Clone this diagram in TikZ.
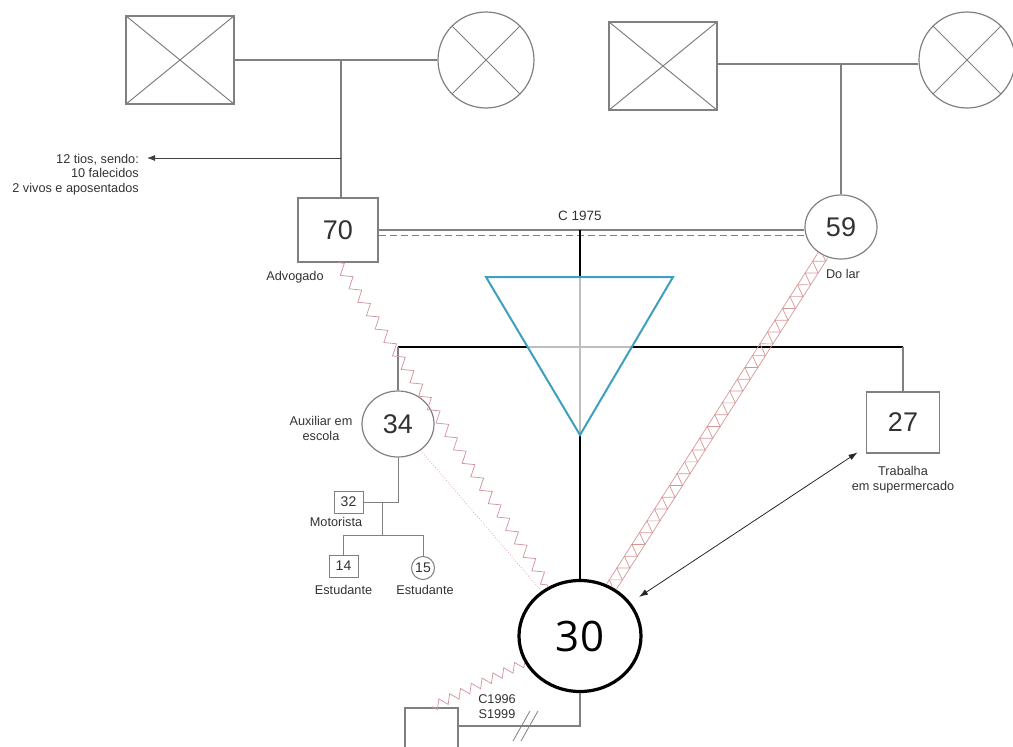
\documentclass[tikz,border=0pt]{standalone}
\usepackage{fontspec}
\setmainfont{Liberation Sans}
\newfontfamily\egofont{Open Sans}
\usetikzlibrary{arrows.meta,decorations.pathmorphing,calc,shapes.geometric}
\definecolor{ln}{RGB}{128,128,128}
\definecolor{lightln}{RGB}{190,190,190}
\definecolor{tx}{RGB}{50,50,50}
\definecolor{tealc}{RGB}{60,160,190}
\definecolor{zzc}{RGB}{210,150,160}
\definecolor{trc}{RGB}{215,150,150}
\definecolor{dotc}{RGB}{215,170,178}
\begin{document}
\begin{tikzpicture}[x=1pt,y=-1pt,
  gline/.style={draw=ln,line width=1.2pt},
  thinline/.style={draw=ln,line width=1pt},
  lightline/.style={draw=lightln,line width=1.2pt},
  bline/.style={draw=black,line width=1.9pt},
  male/.style={draw=ln,line width=1.2pt,rectangle,inner sep=0pt,text=tx},
  female/.style={draw=ln,line width=1.2pt,ellipse,inner sep=0pt,text=tx},
  age/.style={font=\fontsize{27}{30}\selectfont},
  small/.style={font=\fontsize{14}{16}\selectfont},
  lbl/.style={text=tx,font=\fontsize{12.7}{14.5}\selectfont,inner sep=0pt,align=center},
  zzline/.style={draw=zzc,line width=0.75pt,decorate,decoration={zigzag,segment length=16pt,amplitude=5pt}},
  zzsmall/.style={draw=zzc,line width=0.75pt,decorate,decoration={zigzag,segment length=12pt,amplitude=4.5pt}},
  trussline/.style={draw=trc,line width=0.7pt},
  arrowtip/.style={line width=0.8pt,-{Latex[length=8pt,width=6pt]}}
]
\useasboundingbox (0,0) rectangle (1013,747);

% grandparents left
\node[male,minimum width=108pt,minimum height=88pt] (gf1) at (180,60) {};
\draw[thinline] (gf1.north west) -- (gf1.south east) (gf1.north east) -- (gf1.south west);
\node[female,minimum size=96pt] (gm1) at (486,60) {};
\draw[thinline] (gm1.135) -- (gm1.-45) (gm1.45) -- (gm1.-135);
\draw[gline] (gf1.east) -- (gm1.west);

% grandparents right
\node[male,minimum width=108pt,minimum height=88pt] (gf2) at (663,66) {};
\draw[thinline] (gf2.north west) -- (gf2.south east) (gf2.north east) -- (gf2.south west);
\node[female,minimum size=96pt] (gm2) at (967,60) {};
\draw[thinline] (gm2.135) -- (gm2.-45) (gm2.45) -- (gm2.-135);
\coordinate (c2) at (841,64);
\draw[gline] (c2 -| gf2.east) -- (c2 -| gm2.west);

% parents
\node[male,minimum width=80pt,minimum height=64pt,age] (father) at (338,230) {70};
\node[female,minimum width=72pt,minimum height=64pt,age] (mother) at (841,227) {59};
\node[lbl] (fatherjob) at (295,277) {Advogado};
\node[lbl] (motherjob) at (843,274) {Do lar};

\coordinate (c1) at (341,60);
\draw[gline] (c1) -- (c1 |- father.north);
\draw[gline] (c2) -- (mother.north);

% uncles
\coordinate (ua) at (341,158);
\coordinate (ue) at (147,158);
\draw[arrowtip,draw=black!75] (ua) -- (ue);
\node[lbl,anchor=north east,align=right] (uncles) at (139,154)
  {12 tios, sendo:\\10 falecidos\\2 vivos e aposentados};

% marriage
\draw[gline] (father.east) -- (father.east -| mother.west);
\coordinate (fd) at ($(father.east)+(0,5)$);
\draw[thinline,dash pattern=on 7pt off 4pt] (fd) -- (fd -| mother.west);
\node[lbl,font=\fontsize{13.5}{15}\selectfont] (marr) at (580,216) {C 1975};

% ego
\node[draw=black,line width=3.2pt,ellipse,minimum width=122pt,minimum height=111pt,inner sep=0pt,text=black,font=\egofont\fontsize{42}{46}\selectfont] (ego) at (580,636) {30};

% triangle coordinates
\coordinate (tl) at (486,277);
\coordinate (tr) at (673,277);
\coordinate (tb) at (580,435);
\coordinate (mc) at (father.east -| ego.north);
\coordinate (tt) at (tl -| mc);

% siblings line
\coordinate (sl) at (398,347);
\coordinate (sr) at (903,347);
\coordinate (il) at (intersection of tl--tb and sl--sr);
\coordinate (ir) at (intersection of tr--tb and sl--sr);

\node[female,minimum width=72pt,minimum height=66pt,age] (sister) at (398,424) {34};
\node[male,minimum width=73pt,minimum height=61pt,age] (brother) at (903,422.5) {27};
\node[lbl] (sisterjob) at (321,428.5) {Auxiliar em\\escola};
\node[lbl,font=\fontsize{12.7}{15}\selectfont] (brotherjob) at (903,479.5) {Trabalha\\em supermercado};

\draw[bline] (mc) -- (tt);
\draw[lightline] (tt) -- (tb);
\draw[bline] (tb) -- (ego.north);
\draw[bline] (sl) -- (il);
\draw[lightline] (il) -- (ir);
\draw[bline] (ir) -- (sr);
\draw[gline] (sl) -- (sister.north);
\draw[gline] (sr) -- (brother.north);
\draw[tealc,line width=2pt,line join=miter] (tl) -- (tr) -- (tb) -- cycle;

% sister's family
\node[male,minimum width=29pt,minimum height=22pt,small,line width=1pt] (bil) at (348.5,502) {32};
\node[lbl] (biljob) at (336,522) {Motorista};
\coordinate (sj) at (sister.south |- bil.east);
\draw[thinline] (sister.south) -- (sj) -- (bil.east);
\node[male,minimum width=29pt,minimum height=22pt,small,line width=1pt] (nephew) at (343.5,566) {14};
\node[female,minimum size=23pt,small,line width=1pt] (niece) at (423,568) {15};
\node[lbl] (nephewjob) at (343.5,590) {Estudante};
\node[lbl] (niecejob) at (425,590) {Estudante};
\coordinate (cj) at (382,502);
\coordinate (cb) at (382,535);
\draw[thinline] (cj) -- (cb);
\draw[thinline] (nephew.north) -- (nephew.north |- cb) -- (niece.north |- cb) -- (niece.north);

% ex-spouse
\node[male,minimum width=53pt,minimum height=50pt] (ex) at (431.5,733) {};
\coordinate (exl) at (ex.east |- 0,726);
\draw[gline] (exl) -| (ego.south);
\coordinate (div) at (526,726);
\draw[thinline,line width=0.8pt] ([shift={(-13,15)}]div) -- ([shift={(4,-15)}]div)
  ([shift={(-5,15)}]div) -- ([shift={(12,-15)}]div);
\node[lbl,font=\fontsize{12.7}{15}\selectfont] (divlbl) at (497,706.5) {C1996\\S1999};

% emotional relations
\draw[zzline] (father.south) -- (ego);
\draw[zzsmall] (ego) -- (ex.north);
\draw[dotc,line width=0.8pt,dotted] (sister) -- (ego);
\path (mother) -- (ego) coordinate[pos=0] (ta) coordinate[pos=1] (tz);
\draw[trussline] ($(ta)!5.5pt!90:(tz)$) -- ($(tz)!5.5pt!-90:(ta)$);
\draw[trussline] ($(ta)!5.5pt!-90:(tz)$) -- ($(tz)!5.5pt!90:(ta)$);
\draw[trussline,decorate,decoration={zigzag,segment length=14pt,amplitude=5.5pt}] (ta) -- (tz);
\draw[black!85,line width=0.8pt,{Latex[length=9pt,width=6pt]}-{Latex[length=9pt,width=6pt]},shorten <=10pt,shorten >=10pt] (ego) -- (brother);
\end{tikzpicture}
\end{document}
